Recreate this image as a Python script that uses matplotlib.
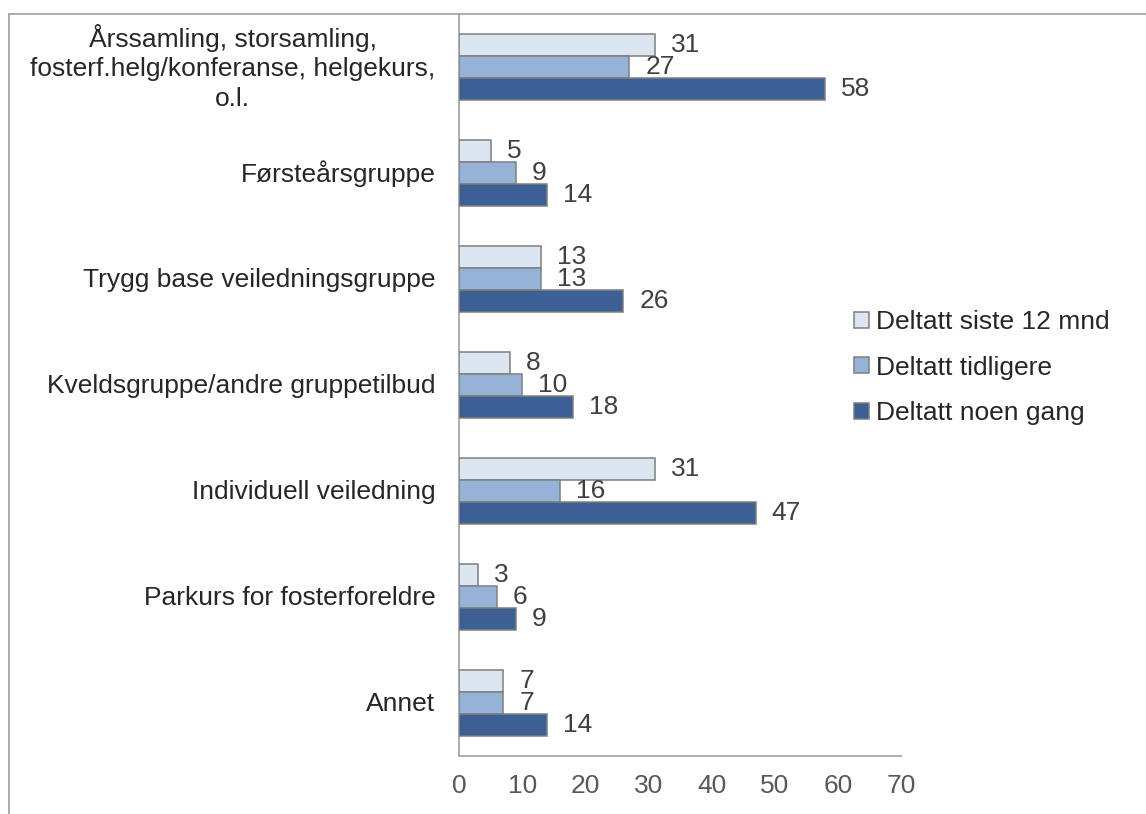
import matplotlib
matplotlib.use("Agg")
import matplotlib.pyplot as plt
import matplotlib.transforms as mtransforms
import numpy as np
from matplotlib.lines import Line2D

plt.rcParams['font.family'] = ['Liberation Sans', 'DejaVu Sans']

categories = [
    "Årssamling, storsamling,\nfosterf.helg/konferanse, helgekurs,\no.l.",
    "Førsteårsgruppe",
    "Trygg base veiledningsgruppe",
    "Kveldsgruppe/andre gruppetilbud",
    "Individuell veiledning",
    "Parkurs for fosterforeldre",
    "Annet",
]
series_names = ["Deltatt siste 12 mnd", "Deltatt tidligere", "Deltatt noen gang"]
siste_12 = [31, 5, 13, 8, 31, 3, 7]
tidligere = [27, 9, 13, 10, 16, 6, 7]
noen_gang = [58, 14, 26, 18, 47, 9, 14]
colors = ["#DCE6F1", "#95B3D7", "#3C6094"]
xticks = [0, 10, 20, 30, 40, 50, 60, 70]

FS = 19
W, H = 1146, 814
fig = plt.figure(figsize=(W / 100, H / 100), dpi=100)
ax = fig.add_axes([459 / W, (H - 756) / H, (901 - 459) / W, (756 - 14) / H])

n = len(categories)
y = np.arange(n)
bh = 0.207
data = [siste_12, tidligere, noen_gang]
offsets = [-bh, 0, bh]
for vals, off, c, name in zip(data, offsets, colors, series_names):
    bars = ax.barh(y + off, vals, height=bh, color=c, edgecolor="#7F7F7F",
                   linewidth=1.1, label=name, zorder=3)
    ax.bar_label(bars, labels=[str(v) for v in vals], padding=11.5,
                 fontsize=FS, color="#404040")

ax.set_ylim(n - 0.5, -0.5)
ax.set_xlim(0, 70)
ax.set_xticks(xticks)
ax.set_xticklabels([str(t) for t in xticks])
ax.set_yticks(y)
ax.set_yticklabels(categories, multialignment="center", linespacing=1.3)
ax.tick_params(axis="x", length=0, pad=13, labelsize=FS, labelcolor="#595959")
ax.tick_params(axis="y", length=0, pad=17, labelsize=FS, labelcolor="#262626")
shift_up = mtransforms.ScaledTranslation(0, 3 / 100, fig.dpi_scale_trans)
for i, lab in enumerate(ax.get_yticklabels()):
    dy = 5 if i == 0 else 2
    lab.set_transform(lab.get_transform() +
                      mtransforms.ScaledTranslation(0, dy / 100, fig.dpi_scale_trans))
for s in ["top", "right"]:
    ax.spines[s].set_visible(False)
for s in ["left", "bottom"]:
    ax.spines[s].set_color("#A6A6A6")
    ax.spines[s].set_linewidth(1.3)

handles, labels = ax.get_legend_handles_labels()
leg = fig.legend(handles, labels, loc="upper left",
                 bbox_to_anchor=(854 / W, 1 - 310 / H), frameon=False,
                 fontsize=FS, handlelength=0.55, handleheight=0.55,
                 handletextpad=0.28, labelspacing=0.82, borderpad=0,
                 borderaxespad=0)
for t in leg.get_texts():
    t.set_color("#262626")

# outer frame (top and left)
fig.add_artist(Line2D([9 / W, 9 / W], [0, 1 - 14 / H], transform=fig.transFigure,
                      color="#A6A6A6", linewidth=1.3))
fig.add_artist(Line2D([9 / W, 1], [1 - 14 / H, 1 - 14 / H], transform=fig.transFigure,
                      color="#A6A6A6", linewidth=1.3))

fig.savefig("out.png", dpi=100, facecolor="white")
